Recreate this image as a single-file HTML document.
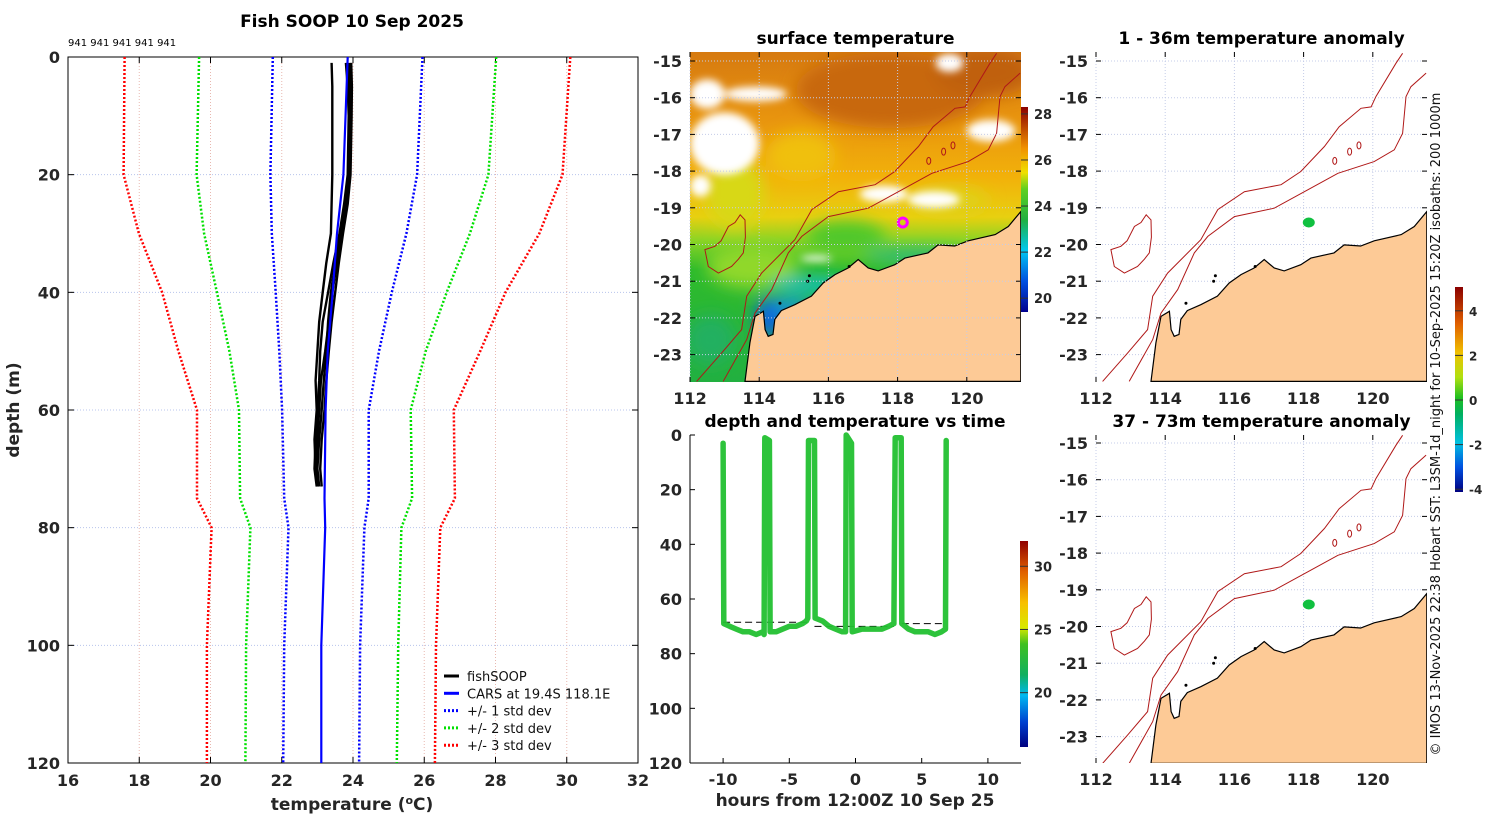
<!DOCTYPE html>
<html><head><meta charset="utf-8"><style>
html,body{margin:0;padding:0;background:#fff;}
svg text{font-family:"DejaVu Sans","Liberation Sans",sans-serif;}
.tk{font-size:16px;font-weight:bold;fill:#262626;}
.ttl{font-size:17px;font-weight:bold;fill:#000;}
.plain{font-weight:normal;fill:#111;}
</style></head><body>
<svg id="fig" width="1500" height="820" viewBox="0 0 1500 820" xmlns="http://www.w3.org/2000/svg">
<defs>
<filter id="blur8" x="-20%" y="-20%" width="140%" height="140%"><feGaussianBlur stdDeviation="8"/></filter>
<filter id="blur3"><feGaussianBlur stdDeviation="4"/></filter>
<clipPath id="clipSST"><rect x="690" y="52" width="331" height="330"/></clipPath>
<clipPath id="clipA1"><rect x="1096" y="52" width="331" height="330"/></clipPath>
<clipPath id="clipA2"><rect x="1096" y="435" width="331" height="328"/></clipPath>
<clipPath id="clipL"><rect x="68" y="57" width="570" height="706"/></clipPath>
<linearGradient id="sstBase" x1="0" y1="0" x2="0" y2="1">
<stop offset="0" stop-color="#d67a10"/><stop offset="0.2" stop-color="#e8940e"/>
<stop offset="0.38" stop-color="#f2b10a"/><stop offset="0.5" stop-color="#e8d010"/>
<stop offset="0.57" stop-color="#8cd424"/><stop offset="0.66" stop-color="#2fbb2c"/>
<stop offset="1" stop-color="#22b040"/></linearGradient>
<linearGradient id="cbSST" x1="0" y1="1" x2="0" y2="0">
<stop offset="0" stop-color="#00008f"/><stop offset="0.15" stop-color="#0050e0"/>
<stop offset="0.3" stop-color="#00c8f0"/><stop offset="0.45" stop-color="#20b040"/>
<stop offset="0.6" stop-color="#60d020"/><stop offset="0.68" stop-color="#f0e000"/>
<stop offset="0.8" stop-color="#f09000"/><stop offset="1" stop-color="#8a0000"/></linearGradient>
<linearGradient id="cbT" x1="0" y1="1" x2="0" y2="0">
<stop offset="0" stop-color="#00007f"/><stop offset="0.12" stop-color="#0040d0"/>
<stop offset="0.25" stop-color="#00b8f0"/><stop offset="0.35" stop-color="#10b060"/>
<stop offset="0.5" stop-color="#40c020"/><stop offset="0.58" stop-color="#d8e800"/>
<stop offset="0.7" stop-color="#f8c000"/><stop offset="0.85" stop-color="#e06000"/>
<stop offset="1" stop-color="#900000"/></linearGradient>
<linearGradient id="cbA" x1="0" y1="1" x2="0" y2="0">
<stop offset="0" stop-color="#00007f"/><stop offset="0.12" stop-color="#0050e0"/>
<stop offset="0.24" stop-color="#00c0e0"/><stop offset="0.38" stop-color="#00b060"/>
<stop offset="0.46" stop-color="#20c020"/><stop offset="0.56" stop-color="#b0e010"/>
<stop offset="0.68" stop-color="#f0c000"/><stop offset="0.82" stop-color="#e06000"/>
<stop offset="1" stop-color="#8a0000"/></linearGradient>
</defs>
<g id="root"></g>
</svg>
<script>
// ---------- Left chart data ----------
const stdDepths = [0,20,30,40,50,60,75,80,100,120];
const carsTemp  = [23.85,23.73,23.55,23.43,23.29,23.23,23.2,23.22,23.11,23.11];
const sd1Low  = [21.75,21.68,21.72,21.83,21.93,22.01,22.07,22.19,22.07,22.04];
const sd1High = [25.95,25.8,25.5,25.09,24.73,24.44,24.44,24.32,24.2,24.17];
const sd2Low  = [19.68,19.61,19.82,20.18,20.53,20.8,20.83,21.12,21.0,20.98];
const sd2High = [28.02,27.8,27.28,26.63,26.04,25.62,25.66,25.36,25.27,25.23];
const sd3Low  = [17.59,17.56,17.99,18.64,19.1,19.62,19.62,20.03,19.9,19.9];
const sd3High = [30.1,29.88,29.23,28.28,27.57,26.83,26.86,26.45,26.33,26.3];
const fishDepths = [1,5,10,20,25,30,35,40,45,50,55,60,65,70,73];
const fishT1 = [23.95,23.97,23.96,23.93,23.85,23.72,23.6,23.5,23.4,23.32,23.25,23.2,23.12,23.08,23.12];
const fishT2 = [23.4,23.42,23.42,23.42,23.4,23.38,23.25,23.15,23.05,23.0,22.95,22.98,22.92,22.95,23.0];
const fishT3 = [23.88,23.9,23.9,23.87,23.78,23.65,23.5,23.38,23.3,23.25,23.18,23.12,23.05,23.0,23.05];
const fishT4 = [23.92,23.95,23.94,23.9,23.8,23.68,23.55,23.42,23.32,23.22,23.1,23.05,23.0,22.98,23.02];
const fishT5 = [23.8,23.85,23.88,23.85,23.75,23.62,23.45,23.3,23.15,23.08,23.05,23.0,22.95,22.92,22.98];
const tempTicks = [16,18,20,22,24,26,28,30,32];
const depthTicks = [0,20,40,60,80,100,120];
// ---------- Time series data ----------
const diveHours = [-10.0,-9.95,-9.5,-9.0,-8.5,-8.0,-7.5,-7.0,-6.9,-6.85,-6.5,-6.45,-6.0,-5.5,-5.0,-4.5,-4.0,-3.7,-3.6,-3.55,-3.1,-3.05,-2.5,-2.0,-1.5,-1.0,-0.75,-0.7,-0.3,-0.25,0.5,1.0,1.5,2.0,2.5,2.9,3.0,3.45,3.5,4.0,4.5,5.0,5.5,6.0,6.5,6.8,6.85];
const diveDepth = [3,69,70,71,72,72,73,72,73,1,2,72,72,71,70,70,69,68,67,2,2,67,68,70,71,72,72,0,3,72,71,71,71,71,70,69,1,1,69,71,72,72,72,73,72,71,2];
const bottomStart = [-10.0,-3.1,3.5];
const bottomEnd   = [-3.6,2.9,6.8];
const bottomLevel = [68.5,70,69];
const hourTicks = [-10,-5,0,5,10];
// ---------- Map data ----------
const coastLon = [113.59,113.73,113.88,114.12,114.17,114.26,114.4,114.45,114.64,115.03,115.51,115.85,116.19,116.57,116.86,117.15,117.44,117.92,118.21,118.88,119.17,119.65,120.04,120.82,121.2,121.56,121.56];
const coastLat = [-23.73,-22.68,-21.96,-21.82,-22.32,-22.5,-22.45,-22.04,-21.8,-21.64,-21.41,-21.05,-20.82,-20.64,-20.41,-20.64,-20.72,-20.55,-20.37,-20.23,-20.01,-20.04,-19.9,-19.73,-19.51,-19.1,-23.73];
const iso1000Lon = [112.19,112.92,113.49,113.64,114.07,115.03,115.52,116.29,117.35,117.92,118.6,119.03,119.66,119.95,120.09,120.67,120.86];
const iso1000Lat = [-23.73,-22.95,-22.32,-21.41,-20.78,-19.87,-19.05,-18.56,-18.37,-18.01,-17.33,-16.79,-16.29,-16.25,-15.97,-15.06,-14.79];
const iso200Lon = [112.96,113.64,113.88,114.36,114.84,115.23,116.0,117.15,118.12,118.99,120.04,120.62,120.86,120.96,121.1,121.54];
const iso200Lat = [-23.73,-22.59,-21.87,-21.23,-20.23,-19.78,-19.24,-19.01,-18.51,-18.06,-17.74,-17.42,-16.97,-15.97,-15.7,-15.33];
const islandLon = [112.43,112.72,112.9,113.11,113.3,113.45,113.59,113.6,113.54,113.4,113.2,112.82,112.53];
const islandLat = [-20.14,-20.05,-19.9,-19.51,-19.4,-19.19,-19.33,-19.8,-20.23,-20.4,-20.6,-20.78,-20.6];
const shoalLon = [118.9,119.33,119.6];
const shoalLat = [-17.72,-17.47,-17.3];
const stationLon = 118.15, stationLat = -19.4;
const lonTicks = [112,114,116,118,120];
const latTicks = [-15,-16,-17,-18,-19,-20,-21,-22,-23];
const sstCbTicks = [20,22,24,26,28];
const tCbTicks = [20,25,30];
const aCbTicks = [-4,-2,0,2,4];

const NS='http://www.w3.org/2000/svg';
const root=document.getElementById('root');
function el(tag,attrs,parent){const e=document.createElementNS(NS,tag);for(const k in attrs)e.setAttribute(k,attrs[k]);(parent||root).appendChild(e);return e;}
function txt(s,x,y,cls,anchor,parent){const t=el('text',{x:x,y:y,'class':cls||'tk','text-anchor':anchor||'middle'},parent);t.textContent=s;return t;}

// ================= LEFT PROFILE CHART =================
const L={x0:68,x1:638,y0:57,y1:763};
const tx=t=>L.x0+(t-16)/(32-16)*(L.x1-L.x0);
const dy=d=>L.y0+d/120*(L.y1-L.y0);
const gL=el('g',{});


tempTicks.forEach(t=>{
  if(t>16&&t<32){const l=el('line',{x1:tx(t),x2:tx(t),y1:L.y0,y2:L.y1,stroke:'#e8b8b0','stroke-width':1,'stroke-dasharray':'1 2'},gL);}
  el('line',{x1:tx(t),x2:tx(t),y1:L.y1,y2:L.y1-6,stroke:'#000'},gL);
  el('line',{x1:tx(t),x2:tx(t),y1:L.y0,y2:L.y0+6,stroke:'#000'},gL);
  const lb=txt(String(t),tx(t),786,'tk','middle',gL);
  
});
depthTicks.forEach(d=>{
  if(d>0&&d<120){const l=el('line',{x1:L.x0,x2:L.x1,y1:dy(d),y2:dy(d),stroke:'#b8c4ec','stroke-width':1,'stroke-dasharray':'1 2'},gL);}
  el('line',{x1:L.x0,x2:L.x0+6,y1:dy(d),y2:dy(d),stroke:'#000'},gL);
  el('line',{x1:L.x1,x2:L.x1-6,y1:dy(d),y2:dy(d),stroke:'#000'},gL);
  const lb=txt(String(d),L.x0-8,dy(d)+6,'tk','end',gL);
  
});
const axL=el('rect',{x:L.x0,y:L.y0,width:L.x1-L.x0,height:L.y1-L.y0,fill:'none',stroke:'#000','stroke-width':1},gL);

function profLine(temps,depths,color,dash,w,name){
  const p=el('polyline',{points:temps.map((t,i)=>tx(t).toFixed(1)+','+dy(depths[i]).toFixed(1)).join(' '),fill:'none',stroke:color,'stroke-width':w,'stroke-dasharray':dash||'none','stroke-linejoin':'round','clip-path':'url(#clipL)'},gL);
  
  
}
profLine(sd3Low,stdDepths,'#ff0000','2 2',2.5,'minus-3-std-line');
profLine(sd3High,stdDepths,'#ff0000','2 2',2.5,'plus-3-std-line');
profLine(sd2Low,stdDepths,'#00e000','2 2',2.5,'minus-2-std-line');
profLine(sd2High,stdDepths,'#00e000','2 2',2.5,'plus-2-std-line');
profLine(sd1Low,stdDepths,'#0000ff','2 2',2.5,'minus-1-std-line');
profLine(sd1High,stdDepths,'#0000ff','2 2',2.5,'plus-1-std-line');
[fishT1,fishT2,fishT3,fishT4,fishT5].forEach(a=>profLine(a,fishDepths,'#000','',2.4,'fishsoop-profile'));
profLine(carsTemp,stdDepths,'#0000ff','',2.2,'cars-climatology-line');
// legend
const lg=el('g',{},gL);


const legItems=[['fishSOOP','#000',''],['CARS at 19.4S 118.1E','#0000ff',''],['+/- 1 std dev','#0000ff','2 2'],['+/- 2 std dev','#00e000','2 2'],['+/- 3 std dev','#ff0000','2 2']];
legItems.forEach((it,i)=>{
  const y=676+i*17.3;
  const g=el('g',{},lg);
  
  
  el('line',{x1:444,x2:459,y1:y,y2:y,stroke:it[1],'stroke-width':3,'stroke-dasharray':it[2]||'none'},g);
  const t=txt(it[0],467,y+5,'plain','start',g);t.setAttribute('style','font-size:13px');
});
const t1=txt('Fish SOOP 10 Sep 2025',352,27,'ttl','middle');
const t2=txt('941 941 941 941 941',68,46,'plain','start');t2.setAttribute('style','font-size:10px;fill:#000');
const xl=el('text',{x:352,y:810,'text-anchor':'middle','class':'tk'});xl.setAttribute('style','font-size:17px');
xl.innerHTML='temperature (<tspan dy="-6" style="font-size:11px">o</tspan><tspan dy="6">C)</tspan>';

const yl=txt('depth (m)',0,0,'tk','middle');yl.setAttribute('transform','translate(19,410) rotate(-90)');yl.setAttribute('style','font-size:17px');


// ================= MAP helpers =================
const pxPerLon=34.6, pxPerLat=36.7;
function proj(x0,latBase){return {x:lon=>x0+(lon-112)*pxPerLon, y:lat=>latBase+(-15-lat)*pxPerLat};}
function polyPts(P,lons,lats){return lons.map((l,i)=>P.x(l).toFixed(1)+','+P.y(lats[i]).toFixed(1)).join(' ');}
function mapFrame(g,P,box,title){
  lonTicks.forEach(l=>{
    const gl=el('line',{x1:P.x(l),x2:P.x(l),y1:box.y,y2:box.y+box.h,stroke:'#c4cce8','stroke-width':1,'stroke-dasharray':'1 2'},g);
    
    el('line',{x1:P.x(l),x2:P.x(l),y1:box.y+box.h,y2:box.y+box.h-5,stroke:'#000'},g);
    el('line',{x1:P.x(l),x2:P.x(l),y1:box.y,y2:box.y+5,stroke:'#000'},g);
    const t=txt(String(l),P.x(l),box.y+box.h+22,'tk','middle',g);
  });
  latTicks.forEach(l=>{
    const gl=el('line',{x1:box.x,x2:box.x+box.w,y1:P.y(l),y2:P.y(l),stroke:'#c4cce8','stroke-width':1,'stroke-dasharray':'1 2'},g);
    
    el('line',{x1:box.x,x2:box.x+5,y1:P.y(l),y2:P.y(l),stroke:'#000'},g);
    el('line',{x1:box.x+box.w,x2:box.x+box.w-5,y1:P.y(l),y2:P.y(l),stroke:'#000'},g);
    const t=txt(String(l),box.x-8,P.y(l)+6,'tk','end',g);
  });
  const tt=txt(title,box.x+box.w/2,box.y-8,'ttl','middle',g);
}
function mapFeatures(g,P,clip){
  const fg=el('g',{'clip-path':clip},g);
  const land=el('polygon',{points:polyPts(P,coastLon,coastLat),fill:'#fdca96',stroke:'#000','stroke-width':1.2},fg);
  
  const i1=el('polyline',{points:polyPts(P,iso1000Lon,iso1000Lat),fill:'none',stroke:'#b01818','stroke-width':1},fg);
  
  const i2=el('polyline',{points:polyPts(P,iso200Lon,iso200Lat),fill:'none',stroke:'#b01818','stroke-width':1},fg);
  
  const isl=el('polygon',{points:polyPts(P,islandLon,islandLat),fill:'none',stroke:'#b01818','stroke-width':1},fg);
  
  shoalLon.forEach((l,i)=>{const e=el('ellipse',{cx:P.x(l),cy:P.y(shoalLat[i]),rx:2,ry:3.5,fill:'none',stroke:'#b01818','stroke-width':1},fg);});
  [[115.4,-21.0],[115.45,-20.85],[116.6,-20.6],[114.6,-21.6]].forEach(p=>el('circle',{cx:P.x(p[0]),cy:P.y(p[1]),r:1.5,fill:'#000'},fg));
}

// ================= SST MAP =================
const P1=proj(690,61);
const gS=el('g',{});


const sg=el('g',{'clip-path':'url(#clipSST)'},gS);
el('rect',{x:690,y:52,width:331,height:330,fill:'url(#sstBase)'},sg);
const bl=el('g',{filter:'url(#blur8)'},sg);
el('ellipse',{cx:P1.x(117.8),cy:P1.y(-15.8),rx:95,ry:38,fill:'#c8680c'},bl);
el('ellipse',{cx:P1.x(120.5),cy:P1.y(-15.3),rx:50,ry:25,fill:'#c0600c'},bl);
el('ellipse',{cx:P1.x(115.2),cy:P1.y(-17.6),rx:35,ry:25,fill:'#f0c010'},bl);
el('ellipse',{cx:P1.x(113.3),cy:P1.y(-18.6),rx:30,ry:35,fill:'#d8d818'},bl);
el('ellipse',{cx:P1.x(113.8),cy:P1.y(-20.6),rx:45,ry:22,fill:'#90d82a'},bl);
el('ellipse',{cx:P1.x(116.5),cy:P1.y(-19.8),rx:40,ry:16,fill:'#50c82a'},bl);
el('ellipse',{cx:P1.x(119.5),cy:P1.y(-18.8),rx:40,ry:14,fill:'#e0d018'},bl);
el('ellipse',{cx:P1.x(112.6),cy:P1.y(-22.6),rx:25,ry:25,fill:'#20b060'},bl);
el('ellipse',{cx:P1.x(115.5),cy:P1.y(-21.1),rx:40,ry:8,fill:'#18c0c0'},bl);
el('ellipse',{cx:P1.x(114.3),cy:P1.y(-22.0),rx:14,ry:20,fill:'#1060e0'},bl);
el('ellipse',{cx:P1.x(114.9),cy:P1.y(-21.7),rx:20,ry:8,fill:'#1890e8'},bl);
el('ellipse',{cx:P1.x(118.5),cy:P1.y(-20.3),rx:50,ry:6,fill:'#20b890'},bl);
const cl=el('g',{filter:'url(#blur3)'},sg);
const clouds=[[112,-16.4,2.0,-18.1],[112,-15.5,1.0,-16.3],[113,-15.7,1.8,-16.1],[116.9,-18.4,1.4,-18.85],[118.3,-18.55,1.5,-19.0],[120.0,-16.6,1.4,-17.2],[119.1,-14.8,0.8,-15.3],[115.2,-20.3,0.9,-20.45],[112,-18.1,0.6,-18.7]];
clouds.forEach(c=>{const r=el('ellipse',{cx:P1.x(c[0]+c[2]/2),cy:P1.y((c[1]+c[3])/2),rx:c[2]*pxPerLon/2,ry:(c[1]-c[3])*pxPerLat/2,fill:'#ffffff'},cl);});
mapFeatures(gS,P1,'url(#clipSST)');
const st=el('circle',{cx:P1.x(stationLon),cy:P1.y(stationLat),r:4.5,fill:'none',stroke:'#ff00ff','stroke-width':3},gS);

mapFrame(gS,P1,{x:690,y:52,w:331,h:330},'surface temperature');
const cb1=el('rect',{x:1021,y:107,width:7,height:205,fill:'url(#cbSST)'},gS);

const cbY1=v=>312-(v-19.4)/(28.3-19.4)*205;
sstCbTicks.forEach(v=>{el('line',{x1:1021,x2:1028,y1:cbY1(v),y2:cbY1(v),stroke:'#333'},gS);const t=txt(String(v),1034,cbY1(v)+5,'tk','start',gS);t.setAttribute('style','font-size:13px');});

// ================= TIME SERIES =================
const T={x0:690,x1:1021,y0:435,y1:763};
const hx=h=>T.x0+(h+12.5)/25*(T.x1-T.x0);
const hy=d=>T.y0+d/120*(T.y1-T.y0);
const gT=el('g',{});


el('line',{x1:T.x0,x2:T.x0,y1:T.y0,y2:T.y1,stroke:'#000'},gT);
el('line',{x1:T.x0,x2:T.x1,y1:T.y1,y2:T.y1,stroke:'#000'},gT);
hourTicks.forEach(h=>{el('line',{x1:hx(h),x2:hx(h),y1:T.y1,y2:T.y1-5,stroke:'#000'},gT);const t=txt(String(h),hx(h),T.y1+22,'tk','middle',gT);});
depthTicks.forEach(d=>{el('line',{x1:T.x0,x2:T.x0+5,y1:hy(d),y2:hy(d),stroke:'#000'},gT);const t=txt(String(d),T.x0-8,hy(d)+6,'tk','end',gT);});
bottomStart.forEach((s,i)=>{const l=el('line',{x1:hx(s),x2:hx(bottomEnd[i]),y1:hy(bottomLevel[i]),y2:hy(bottomLevel[i]),stroke:'#000','stroke-width':1,'stroke-dasharray':'7 4'},gT);});
const tr=el('polyline',{points:diveHours.map((h,i)=>hx(h).toFixed(1)+','+hy(diveDepth[i]).toFixed(1)).join(' '),fill:'none',stroke:'#22c030','stroke-width':5.5,'stroke-linejoin':'round','stroke-linecap':'round','opacity':0.95},gT);

const tt3=txt('depth and temperature vs time',855,427,'ttl','middle',gT);
const xl3=txt('hours from 12:00Z 10 Sep 25',855,806,'tk','middle',gT);xl3.setAttribute('style','font-size:17px');
const cb2=el('rect',{x:1020,y:541,width:8,height:206,fill:'url(#cbT)'},gT);

const cbY2=v=>747-(v-15.7)/(32.0-15.7)*206;
tCbTicks.forEach(v=>{el('line',{x1:1020,x2:1028,y1:cbY2(v),y2:cbY2(v),stroke:'#333'},gT);const t=txt(String(v),1034,cbY2(v)+5,'tk','start',gT);t.setAttribute('style','font-size:13px');});

// ================= ANOMALY MAPS =================
function anomMap(x0,latBase,boxY,boxH,clip,title,name){
  const P=proj(x0,latBase);
  const g=el('g',{});
  
  
  mapFrame(g,P,{x:x0,y:boxY,w:331,h:boxH},title);
  mapFeatures(g,P,clip);
  const d=el('ellipse',{cx:P.x(stationLon),cy:P.y(stationLat),rx:6,ry:5,fill:'#10c040'},g);
  
}
anomMap(1096,61,52,330,'url(#clipA1)','1 - 36m temperature anomaly','anomaly-map-shallow');
anomMap(1096,443,435,328,'url(#clipA2)','37 - 73m temperature anomaly','anomaly-map-deep');
const cb3=el('rect',{x:1455,y:287,width:8,height:205,fill:'url(#cbA)'},root);

const cbY3=v=>400-v*22.3;
aCbTicks.forEach(v=>{el('line',{x1:1455,x2:1463,y1:cbY3(v),y2:cbY3(v),stroke:'#333'});const t=txt(String(v),1469,cbY3(v)+5,'tk','start');t.setAttribute('style','font-size:12px');});
const cr=txt('© IMOS 13-Nov-2025 22:38 Hobart SST: L3SM-1d_night for 10-Sep-2025 15:20Z isobaths: 200  1000m',0,0,'plain','middle');
cr.setAttribute('transform','translate(1440,424) rotate(-90)');
cr.setAttribute('style','font-size:13px;fill:#111');


</script>
</body></html>
